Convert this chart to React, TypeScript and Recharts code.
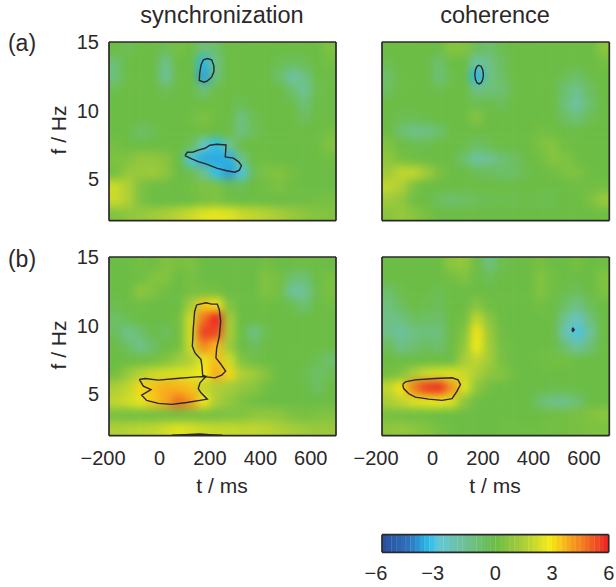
import React from 'react';
import { ScatterChart, Scatter, XAxis, YAxis } from 'recharts';

const timeCentres = [-175,-125,-75,-25,25,75,125,175,225,275,325,375,425,475,525,575,625,675];
const freqCentres = [14.5,13.5,12.5,11.5,10.5,9.5,8.5,7.5,6.5,5.5,4.5,3.5,2.5];
const timeTicks = [-200,0,200,400,600];
const freqTicks = [5,10,15];
const barTicks = [-6,-3,0,3,6];
const barLevels = [-5.875,-5.625,-5.375,-5.125,-4.875,-4.625,-4.375,-4.125,-3.875,-3.625,-3.375,-3.125,-2.875,-2.625,-2.375,-2.125,-1.875,-1.625,-1.375,-1.125,-0.875,-0.625,-0.375,-0.125,0.125,0.375,0.625,0.875,1.125,1.375,1.625,1.875,2.125,2.375,2.625,2.875,3.125,3.375,3.625,3.875,4.125,4.375,4.625,4.875,5.125,5.375,5.625,5.875];

const syncA = [
[0,-0.3,0,0,-0.4,0.3,0,-1.0,-0.7,0,0,0,0,0,0,0,0,0.4],
[-0.9,0,0,0,-1.4,0,0,-3.6,-1.2,0,0,0,0,-0.3,-0.5,-0.3,0,0.2],
[-1.1,0,0,0,-1.7,0,0,-3.9,-1.0,0,0,0,0,-0.7,-1.9,-1.3,0,0],
[-0.2,0,0,0,-0.4,0,0,-1.0,-0.1,0,0,0,0,0,-0.8,-1.6,-0.2,0],
[0,0,0,0,0,0,0,0,0.1,0,-0.3,0,0,0,-0.1,-1.0,-0.1,0],
[0,0,0,0,0,0,0.1,0.4,0.1,0,-1.2,-0.3,0,0,0,-0.5,0,0],
[0,0,-0.7,-0.3,0,0,0,0.1,0,0,-1.2,-0.4,0,0,0,0,0,0.2],
[0.2,0,0,0,0,0,-0.3,-2.6,-3.5,-1.6,0,0,0,0,0,0,0.1,0.5],
[0.4,0.5,0.9,0.9,0.7,0,-3.2,-3.8,-3.8,-3.7,-1.4,0,0.1,0,0,0,0,0.1],
[0.2,1.0,1.1,1.2,0.8,0,-0.3,-1.4,-3.4,-4.0,-3.2,-0.3,0.4,0.5,0.2,0,0,0],
[2.1,1.6,0.4,0.1,0.1,0,0.2,0.4,0.4,-0.2,-0.3,0,0.2,0.4,0.1,0,0,0],
[2.1,1.6,0.4,0,0,0,0,0.3,0.4,0.1,0,0,0,0,0.1,0.1,0.2,0.3],
[0.5,0.8,1.0,1.2,1.5,1.8,2.1,2.5,2.6,2.5,2.1,1.9,1.7,1.4,1.1,0.8,0.6,0.5],
];

const cohA = [
[0,0,0,0,0,0.6,0.5,-0.4,-0.8,-0.2,0,0,0,0,0,0,0,0.7],
[-0.2,0,0,0,-0.8,0,0,-2.0,-1.3,-0.5,0,0,0,0,0,0,0,0.2],
[-0.7,0,0,0,-1.0,-0.2,0,-3.6,-1.3,-0.7,0,0,0,0,-0.3,-0.7,-0.1,0],
[-0.5,0,0,0,-0.2,0,0,-1.2,-1.0,-0.9,-0.1,0,0,0,-0.9,-1.4,-0.5,0],
[0,0,0,0,0,0,0,-0.2,-0.1,-0.4,0,0,0,0,-1.1,-1.8,-0.8,0],
[0,-0.3,-0.3,-0.1,0,0,0,0.6,0,0,0,0,0,0,-0.6,-1.0,-0.3,0],
[0,-0.8,-1.3,-1.3,-0.8,0,0,0,0,0,0,0,0.2,0.1,0,0,0,0],
[0.5,0,-0.2,-0.2,0,0,-0.1,-0.6,-0.3,0,0,0,0.4,0.6,0.1,0,0,0],
[0.8,0.3,0.1,0,0,0,-0.8,-1.9,-1.5,-0.9,-0.6,0,0.1,0.6,0.5,0.1,0,0],
[1.2,1.9,1.9,1.3,0.4,0,0,-0.3,-0.5,-0.7,-0.6,-0.2,0,0.1,0.4,0.4,0.1,0],
[1.9,1.6,0.4,0,0,0,0,0,0,0,-0.1,0,0,0,0,0.1,0.1,0.2],
[1.2,0.9,0.1,0,-0.5,-0.8,-0.6,-0.4,-0.3,-0.2,-0.2,-0.1,-0.2,-0.2,0,0,0.4,1.1],
[0.7,1.0,0.7,0.3,0,0,0,0,0,0,0,0,0,0,0,0,0,0.1],
];

const syncB = [
[0,0,0.2,0.1,0.5,0.3,0.4,0,0,0,0,0,0.2,0,0,0.1,0,0],
[0,0,0.1,0.5,0.6,0,0.3,0,0,0,0,0,0.5,0.2,-0.8,-1.0,0,0.3],
[0,0,0.8,0.5,0.1,0,0.3,0.3,0.2,0,0,0,0.5,0.2,-1.8,-1.6,-0.2,0.3],
[-0.2,0,0.1,0,0,0,1.4,3.4,3.0,0.5,0,0,0.1,0,-0.2,-0.9,0,0.1],
[-0.7,-0.3,0,0,0,0.2,2.2,4.8,6.0,1.4,0,0,0,0,0,0,0,0],
[-0.5,-1.4,-0.8,-0.1,-0.5,0.1,2.3,5.6,5.4,1.5,0,-1.3,-0.2,0,0,0,0,0],
[0,-0.6,-1.4,-0.7,0,0.2,2.2,4.4,3.6,1.2,0,-0.4,0,0,0,0,0,0],
[0,0,0.1,0.2,0.5,1.2,1.6,2.6,3.6,2.2,0.5,0.1,0,0,0,0,-0.3,-0.8],
[0.2,1.1,1.7,2.1,2.3,2.4,2.5,2.9,3.9,3.2,1.6,1.2,0.6,0,0,-0.2,-0.7,-0.3],
[1.5,1.9,3.2,3.5,3.8,3.7,3.5,1.9,1.6,1.3,1.0,0.7,0.2,0,0,0,-0.6,0],
[1.9,2.2,2.6,3.4,3.9,4.8,4.1,3.0,1.5,1.0,0.4,0.2,0,0,0,0,0,0],
[0.3,0.2,0.2,0.2,0.2,0.2,0.3,0.3,0.3,0.4,0.5,0.8,0.9,0.8,0.4,0.3,0.4,0.5],
[1.6,1.7,1.8,1.9,2.2,2.5,2.3,2.1,2.0,2.0,1.9,1.9,1.8,1.6,1.4,1.2,1.1,1.1],
];

const cohB = [
[0,0,0,0,0,0.8,0.9,0,-1.2,-0.2,0,0,0.3,0,0,0.2,0,0.1],
[0,0,0,0,0,0.2,0.5,0,-0.4,0,0,0,0.5,0.2,0,0,0,0.5],
[-0.7,-0.2,0,0,-0.3,0,0,0,0,0,0,0,0.5,0.1,-0.2,-0.4,0,0.4],
[-1.1,-0.5,0,-0.2,-0.4,0,0,0.6,0.1,0,0,0,0.2,0,-0.6,-1.3,-0.4,0],
[-1.3,-1.2,-0.5,-0.6,-0.7,0,0.2,1.9,0.7,0,0,0,0,0,-1.6,-2.5,-1.1,0],
[-1.3,-1.7,-1.2,-1.1,-1.1,0,0.5,3.0,1.1,0.1,0,0,0,0,-2.2,-3.2,-1.7,0],
[-0.4,-1.3,-0.9,-0.5,-0.8,0,0.9,2.8,1.3,0.2,0,0,0,0,-0.9,-1.9,-0.9,0],
[0,0,0,0,0,0,1.4,1.9,1.3,0.3,0,0,0.1,0.2,0.2,0,0,0],
[0.2,0.5,1.5,2.1,2.3,2.4,2.1,1.5,0.8,0.6,0.1,0,0,0,0,0,0,0],
[1.9,3.0,4.6,5.6,5.8,4.3,2.5,0.8,0.2,0,0,0,0,-0.1,-0.1,0,0,0],
[1.5,1.9,2.4,2.6,2.7,2.4,0.8,0.1,0,0,0,0,-0.8,-1.3,-1.4,-0.9,0,0],
[0.3,0.2,0.1,0.1,0,0,0,0,0,0,0,0,0,0.1,0.2,0.3,0.5,0.7],
[0.8,1.0,0.8,0.6,0.3,0.1,0,0,0,0.1,0.1,0.1,0.1,0.2,0.2,0.3,0.4,0.4],
];

type Pt = [number, number];
const contourA1: Pt[] = [[174,13.7],[190,13.8],[207,13.7],[216,13.26],[216,12.85],[207,12.44],[190,12.17],[177,12.08],[158,12.2],[159.5,12.73],[165,13.33],[174,13.7]];
const contourA2: Pt[] = [[101,6.74],[110.6,6.98],[134,7.0],[154,7.13],[180.6,7.27],[200,7.49],[227,7.56],[264,7.51],[261,6.64],[293,6.55],[313,6.3],[325,6.01],[317,5.68],[299.5,5.53],[266.5,5.63],[227,5.82],[187,6.11],[154,6.3],[128,6.5],[101,6.74]];
const contourA3: Pt[] = [[184.6,13.31],[193,13.22],[199,12.97],[201.6,12.63],[199,12.29],[193,12.04],[184.6,11.95],[176,12.04],[170,12.29],[167.6,12.63],[170,12.97],[176,13.22],[184.6,13.31]];
const contourB1: Pt[] = [[147.6,11.52],[184.6,11.67],[207,11.57],[229.5,11.57],[237.4,11.16],[242.7,10.31],[237.4,9.23],[226.8,8.38],[224,7.66],[242.7,7.22],[262.5,6.69],[246.7,6.4],[220,6.21],[187,6.28],[171.4,6.4],[168.7,7.05],[164.7,7.54],[141,8.02],[130.4,8.5],[134.3,9.83],[139.6,11.04],[147.6,11.52]];
const contourB2: Pt[] = [[-79.7,6.09],[-57,6.16],[-4.4,6.04],[68,6.16],[147.6,6.28],[184.6,6.3],[160.8,5.85],[154,5.43],[164.7,5.12],[189.8,4.66],[160.8,4.57],[108,4.42],[48.5,4.28],[-4.4,4.35],[-50.7,4.57],[-70.5,4.95],[-33.5,5.36],[-64,5.6],[-79.7,6.09]];
const contourB3: Pt[] = [[50,2.03],[100,2.08],[160,2.12],[200,2.08],[250,2.03]];
const contourB4: Pt[] = [[-118,5.72],[-107.5,5.92],[-68,6.06],[11.4,6.16],[77.5,6.21],[101,6.06],[110.6,5.72],[97,5.24],[77.5,4.69],[37.9,4.57],[-15,4.66],[-68,4.81],[-94,5.05],[-114,5.43],[-118,5.72]];
const contourB5: Pt[] = [[553,9.71],[556,9.78],[559,9.71],[556,9.64],[553,9.71]];

const ink = '#2b2829';
const font = '"Liberation Sans", Arial, sans-serif';
const fs = 20;
const stops: [number, number[]][] = [
  [-6,[43,75,159]],[-4.6,[45,115,186]],[-3.5,[45,190,238]],[-3,[100,198,214]],[-1.6,[110,193,150]],
  [0,[108,189,69]],[1.5,[170,206,56]],[2.9,[246,235,22]],[4,[247,160,30]],[5,[241,101,34]],[6,[237,32,36]],
];
function color(v: number) {
  const c = Math.max(-6, Math.min(6, v));
  for (let i = 0; i < stops.length - 1; i++) {
    const [a, ca] = stops[i]; const [b, cb] = stops[i + 1];
    if (c <= b) {
      const k = (c - a) / (b - a);
      return `rgb(${ca.map((q, j) => Math.round(q + (cb[j] - q) * k)).join(',')})`;
    }
  }
  return 'rgb(237,32,36)';
}

const cellW = 12.62, cellH = 13.78, pad = 24;
const HeatCell = (p: any) => {
  const { i, j, v } = p.payload;
  const l = j === 0 ? pad : 0, r = j === timeCentres.length - 1 ? pad : 0;
  const t = i === 0 ? pad : 0, b = i === freqCentres.length - 1 ? pad : 0;
  return <rect x={p.cx - cellW / 2 - l} y={p.cy - cellH / 2 - t} width={cellW + l + r + 0.5} height={cellH + t + b + 0.5} fill={color(v)} />;
};
const BarCell = (p: any) => <rect x={p.cx - 2.4} y={p.cy - 9} width={5} height={18} fill={color(p.payload.x)} />;
const Nothing = () => null;

const NumTick = (p: any) => {
  const v = p.payload.value;
  return (
    <text x={p.x - (v < 0 ? p.shift ?? 0 : 0)} y={p.y} fontSize={fs} fontFamily={font} fill={ink}
      textAnchor={p.textAnchor} dominantBaseline="central">{String(v).replace('-', '\u2212')}</text>
  );
};

const toGrid = (g: number[][]) => g.flatMap((row, i) => row.map((v, j) => ({ x: timeCentres[j], y: freqCentres[i], v, i, j })));
const toLine = (c: Pt[]) => c.map(([x, y]) => ({ x, y }));
const layer: React.CSSProperties = { position: 'absolute', left: 0, top: 0 };

function Frame({ margin, xDomain, yDomain, xTicks, yTicks, tickSize }: any) {
  const line = { stroke: ink, strokeWidth: 1.7 };
  const tl = { stroke: ink, strokeWidth: 1.1 };
  return (
    <div style={layer}>
      <ScatterChart width={616} height={587} margin={margin}>
        <XAxis type="number" dataKey="x" domain={xDomain} ticks={xTicks} allowDataOverflow height={1} interval={0}
          axisLine={line} tickLine={tl} tickSize={tickSize} tick={false} />
        <YAxis type="number" dataKey="y" domain={yDomain} ticks={yTicks} allowDataOverflow width={1} interval={0}
          axisLine={line} tickLine={tl} tickSize={tickSize} tick={false} />
        <XAxis xAxisId="top" orientation="top" type="number" domain={xDomain} ticks={xTicks} height={1} interval={0}
          axisLine={line} tickLine={tl} tickSize={tickSize} tick={false} />
        <YAxis yAxisId="right" orientation="right" type="number" domain={yDomain} ticks={yTicks} width={1} interval={0}
          axisLine={line} tickLine={tl} tickSize={tickSize} tick={false} />
        <Scatter data={[{ x: xDomain[0], y: yDomain[0] }]} shape={Nothing} isAnimationActive={false} />
      </ScatterChart>
    </div>
  );
}

function Panel({ left, right, top, bottom, grid, contours, showX, showY, dotIdx }: any) {
  const margin = { left: left - 1, right: 616 - right - 1, top: top - 1, bottom: 587 - bottom - 1 };
  return (
    <>
      <div style={layer}>
        <ScatterChart width={616} height={587} margin={margin}>
          <XAxis type="number" dataKey="x" domain={[-200, 700]} ticks={timeTicks} allowDataOverflow height={1} interval={0}
            axisLine={false} tickLine={false} tickSize={2} tickMargin={20}
            tick={showX ? (t: any) => <NumTick {...t} shift={6} textAnchor="middle" /> : false} />
          <YAxis type="number" dataKey="y" domain={[2, 15]} ticks={freqTicks} allowDataOverflow width={1} interval={0}
            axisLine={false} tickLine={false} tickSize={2} tickMargin={8}
            tick={showY ? (t: any) => <NumTick {...t} textAnchor="end" /> : false} />
          <XAxis xAxisId="top" orientation="top" type="number" domain={[-200, 700]} height={1} hide={false} axisLine={false} tickLine={false} tick={false} />
          <YAxis yAxisId="right" orientation="right" type="number" domain={[2, 15]} width={1} hide={false} axisLine={false} tickLine={false} tick={false} />
          <Scatter className="heat" data={toGrid(grid)} shape={HeatCell} isAnimationActive={false} />
          {contours.map((c: Pt[], k: number) => (
            <Scatter key={k} data={toLine(c)} shape={Nothing} isAnimationActive={false}
              line={{ stroke: ink, strokeWidth: k === dotIdx ? 2.2 : 1.4, fill: 'none' }} lineJointType="linear" />
          ))}
        </ScatterChart>
      </div>
      <Frame margin={margin} xDomain={[-200, 700]} yDomain={[2, 15]} xTicks={timeTicks} yTicks={freqTicks} tickSize={2} />
    </>
  );
}

const Label = ({ x, y, children, rotate, size }: any) => (
  <div style={{ position: 'absolute', left: x, top: y, transform: `translate(-50%,-50%)${rotate ? ' rotate(-90deg)' : ''}`,
    font: `${size}px ${font}`, color: ink, whiteSpace: 'nowrap', lineHeight: 1 }}>{children}</div>
);

export default function App() {
  const barMargin = { left: 381, right: 616 - 608.7 - 1, top: 533.7, bottom: 587 - 552.3 - 1 };
  return (
    <div style={{ position: 'absolute', left: 0, top: 0, width: 616, height: 587, background: '#fff', overflow: 'hidden' }}>
      <style>{`.heat{filter:url(#heatBlur);}`}</style>
      <svg width={0} height={0} style={{ position: 'absolute' }}>
        <defs>
          <filter id="heatBlur" filterUnits="userSpaceOnUse" x={0} y={0} width={616} height={587} colorInterpolationFilters="sRGB">
            <feGaussianBlur stdDeviation={4.2} />
          </filter>
        </defs>
      </svg>
      <Panel left={109} right={336} top={42} bottom={220.7} grid={syncA} contours={[contourA1, contourA2]} showY />
      <Panel left={382} right={609.3} top={42} bottom={220.7} grid={cohA} contours={[contourA3]} />
      <Panel left={109} right={336} top={257} bottom={435.7} grid={syncB} contours={[contourB1, contourB2, contourB3]} showX showY />
      <Panel left={382} right={609.3} top={257} bottom={435.7} grid={cohB} contours={[contourB4, contourB5]} showX dotIdx={1} />
      <div style={layer}>
        <ScatterChart width={616} height={587} margin={barMargin}>
          <XAxis type="number" dataKey="x" domain={[-6, 6]} ticks={barTicks} allowDataOverflow height={1} interval={0}
            axisLine={false} tickLine={false} tickSize={-3} tickMargin={24}
            tick={(t: any) => <NumTick {...t} shift={6} textAnchor="middle" />} />
          <YAxis type="number" dataKey="y" domain={[0, 1]} ticks={[]} allowDataOverflow width={1} tick={false} tickLine={false} axisLine={false} />
          <XAxis xAxisId="top" orientation="top" type="number" domain={[-6, 6]} height={1} axisLine={false} tickLine={false} tick={false} />
          <YAxis yAxisId="right" orientation="right" type="number" domain={[0, 1]} width={1} axisLine={false} tickLine={false} tick={false} />
          <Scatter data={barLevels.map((x) => ({ x, y: 0.5 }))} shape={BarCell} isAnimationActive={false} />
        </ScatterChart>
      </div>
      <Frame margin={barMargin} xDomain={[-6, 6]} yDomain={[0, 1]} xTicks={barTicks} yTicks={[]} tickSize={-3} />
      <Label size={23.5} x={222} y={16}>synchronization</Label>
      <Label size={23.5} x={495} y={16}>coherence</Label>
      <Label size={23} x={22} y={43}>(a)</Label>
      <Label size={23} x={22} y={259}>(b)</Label>
      <Label size={21} x={58} y={130} rotate>f / Hz</Label>
      <Label size={21} x={58} y={345} rotate>f / Hz</Label>
      <Label size={21} x={222} y={485}>t / ms</Label>
      <Label size={21} x={495} y={485}>t / ms</Label>
    </div>
  );
}
